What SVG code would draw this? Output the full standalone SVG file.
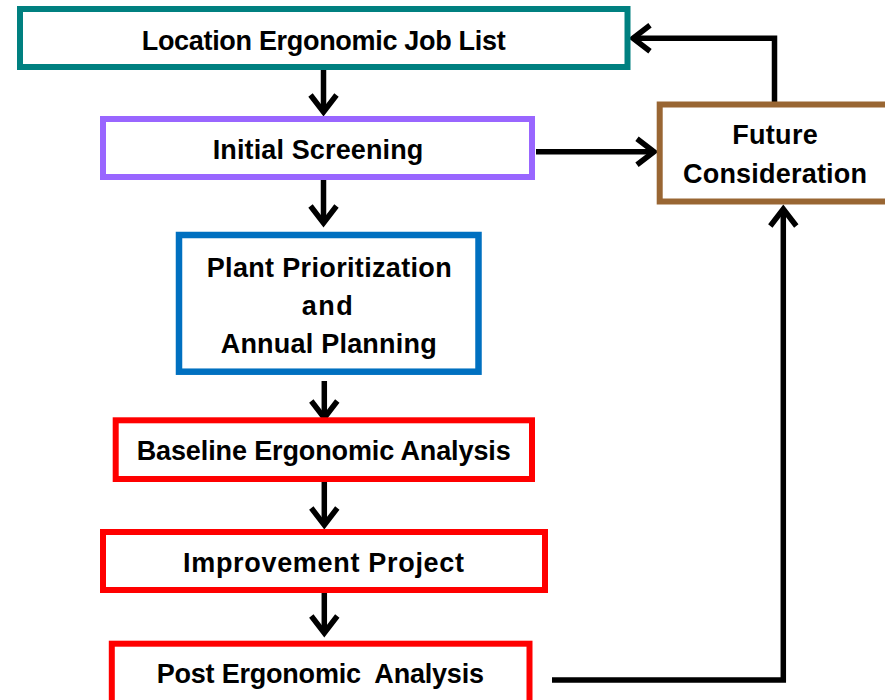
<svg xmlns="http://www.w3.org/2000/svg" width="885" height="700" viewBox="0 0 885 700">
  <style>
    .box { fill: #ffffff; stroke-width: 6; }
    .teal { stroke: #008080; }
    .purple { stroke: #9966FF; }
    .blue { stroke: #0070C0; }
    .red { stroke: #FF0000; }
    .brown { stroke: #996633; }
    .lbl { font-family: "Liberation Sans", Arial, sans-serif; font-weight: bold; font-size: 27px; fill: #000000; }
    .conn { fill: none; stroke: #000000; stroke-width: 5.5; stroke-linejoin: miter; }
  </style>
  <defs>
    <marker id="chev" markerUnits="userSpaceOnUse" viewBox="-24 -16 28 32" refX="0" refY="0" markerWidth="28" markerHeight="32" orient="auto" overflow="visible">
      <path d="M -17 -13 L 0 0 L -17 13" fill="none" stroke="#000000" stroke-width="5.5" stroke-linejoin="miter"/>
    </marker>
  </defs>

  <rect width="885" height="700" fill="#ffffff"/>

  <g id="connectors">
    <path class="conn" d="M 323.5 70 L 323.5 112" marker-end="url(#chev)"/>
    <path class="conn" d="M 323.5 180 L 323.5 223" marker-end="url(#chev)"/>
    <path class="conn" d="M 324.3 381 L 324.3 418" marker-end="url(#chev)"/>
    <path class="conn" d="M 324.3 482 L 324.3 525" marker-end="url(#chev)"/>
    <path class="conn" d="M 324.3 593 L 324.3 633" marker-end="url(#chev)"/>
    <path class="conn" d="M 536 151.7 L 654 151.7" marker-end="url(#chev)"/>
    <path class="conn" d="M 774.5 104 L 774.5 38.3 L 633 38.3" marker-end="url(#chev)"/>
    <path class="conn" d="M 552 680 L 783.3 680 L 783.3 209" marker-end="url(#chev)"/>
  </g>

  <g id="location-job-list">
    <rect class="box teal" x="20" y="9" width="607.5" height="58"/>
    <text class="lbl" x="141.7" y="49.5" textLength="364">Location Ergonomic Job List</text>
  </g>

  <g id="initial-screening">
    <rect class="box purple" x="103" y="119" width="429" height="58"/>
    <text class="lbl" x="212.7" y="159" textLength="210.6">Initial Screening</text>
  </g>

  <g id="future-consideration">
    <rect class="box brown" x="659.7" y="104.5" width="240" height="97"/>
    <text class="lbl" x="732.3" y="144" textLength="85.4">Future</text>
    <text class="lbl" x="683" y="182.7" textLength="184">Consideration</text>
  </g>

  <g id="plant-prioritization">
    <rect class="box blue" x="179" y="235" width="299.5" height="136.7" style="stroke-width:6.5"/>
    <text class="lbl" x="206.7" y="276.7" textLength="245">Plant Prioritization</text>
    <text class="lbl" x="301.7" y="315" textLength="51">and</text>
    <text class="lbl" x="220.7" y="353.3" textLength="216">Annual Planning</text>
  </g>

  <g id="baseline-analysis">
    <rect class="box red" x="115.7" y="420.3" width="416.3" height="58.7"/>
    <text class="lbl" x="136.7" y="460" textLength="374">Baseline Ergonomic Analysis</text>
  </g>

  <g id="improvement-project">
    <rect class="box red" x="103" y="532" width="442" height="58"/>
    <text class="lbl" x="183" y="572.3" textLength="281">Improvement Project</text>
  </g>

  <g id="post-analysis">
    <rect class="box red" x="111.8" y="643.7" width="417.7" height="70"/>
    <text class="lbl" x="156.7" y="683.3" textLength="327.3" xml:space="preserve" style="white-space:pre">Post Ergonomic  Analysis</text>
  </g>
</svg>
